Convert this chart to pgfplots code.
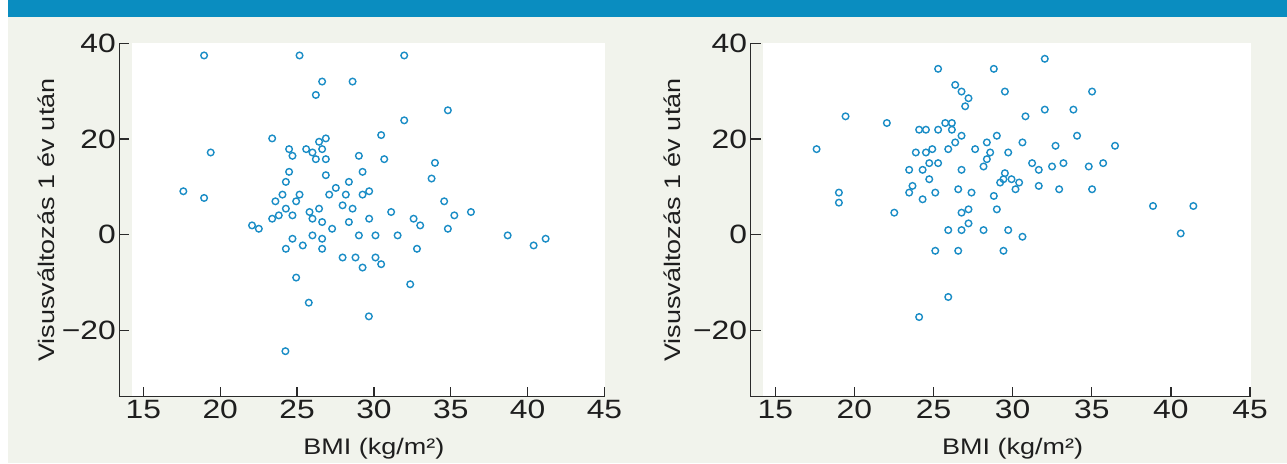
\documentclass[border=0pt]{standalone}
\usepackage{fontspec}
\setmainfont{Liberation Sans}[FakeStretch=1.2]
\usepackage{pgfplots}
\pgfplotsset{compat=1.18}
\definecolor{cream}{HTML}{F1F3EC}
\definecolor{barblue}{HTML}{0A8DC0}
\definecolor{markblue}{HTML}{1A8DC6}
\definecolor{axisgray}{HTML}{2A2A2A}
\definecolor{txt}{HTML}{1E1E1E}
\newcommand{\ticklab}{\fontsize{26.5}{31}\selectfont}
\newcommand{\lablab}{\fontsize{22.5}{26}\selectfont}
\pgfplotsset{
  myaxis/.style={
    scale only axis, anchor=south west,
    xmin=13.44, xmax=45, ymin=-33.9, ymax=40,
    axis x line=bottom, axis y line=left,
    axis line style={-, line width=1.3pt, color=axisgray},
    tick align=inside, major tick length=10pt,
    every tick/.style={line width=1.3pt, color=axisgray},
    xtick={15,20,25,30,35,40,45},
    xticklabels={15,20,25,30,35,40,45},
    ytick={-20,0,20,40},
    yticklabels={−20,0,20,40},
    tick label style={font=\ticklab, text=txt},
    /pgf/number format/assume math mode=true,
    xlabel={BMI (kg/m²)},
    ylabel={Visusváltozás 1 év után},
    every axis x label/.style={at={(axis description cs:0.5247,0)}, anchor=base, yshift=-57.3pt, font=\lablab, text=txt},
    every axis y label/.style={at={(axis description cs:#1,0.5)}, rotate=90, anchor=base, font=\lablab, text=txt},
  },
  myplot/.style={only marks, mark=o, mark size=3.3pt, color=markblue, mark options={line width=1.4pt}},
}
\begin{document}
\begin{tikzpicture}[x=1pt,y=1pt]
\useasboundingbox (0,0) rectangle (1287,463);
\fill[cream] (0,0) rectangle (1287,463);
\fill[white] (0,0) rectangle (8,463);
\fill[barblue] (8,446.3) rectangle (1287,463);
\fill[white] (131.8,66.3) rectangle (604.5,419.7);
\fill[white] (763,66.3) rectangle (1250.7,419.7);

\begin{axis}[myaxis={-0.1348}, at={(119.4pt,66.3pt)}, width=485.1pt, height=353.4pt]
\addplot[myplot] coordinates {
(18.95,37.46)(25.16,37.46)(31.97,37.46)(26.63,32.0)(28.61,32.0)(26.22,29.2)(34.81,25.99)(31.97,23.89)(23.38,20.11)(30.47,20.81)(26.87,20.11)(26.43,19.41)(19.38,17.17)(24.48,17.87)(25.59,17.87)(26.63,17.87)(26.0,17.17)(24.70,16.47)(29.02,16.47)(26.22,15.77)(26.87,15.77)(30.67,15.77)(33.97,15.0)
(24.48,13.12)(26.87,12.42)(29.26,13.12)(33.75,11.72)(24.27,11.02)(28.37,11.02)(17.60,9.06)(18.95,7.66)(24.05,8.36)(25.16,8.36)(27.52,9.76)(27.09,8.36)(28.17,8.36)(29.26,8.36)(29.69,9.06)(23.59,6.96)(24.94,6.96)(34.57,6.96)(27.96,6.12)(24.27,5.42)(26.43,5.42)(28.61,5.42)(25.81,4.72)(31.12,4.72)(36.31,4.72)(23.38,3.32)(23.81,4.02)(24.70,4.02)(26.0,3.32)(29.69,3.32)(32.58,3.32)(35.23,4.02)(26.63,2.62)(28.37,2.62)(33.01,1.92)(22.07,1.92)(22.51,1.22)(27.28,1.22)(34.81,1.22)
(26.0,-0.17)(29.02,-0.17)(30.10,-0.17)(31.54,-0.17)(38.70,-0.17)(24.70,-0.87)(26.63,-0.87)(41.17,-0.87)(25.37,-2.27)(40.39,-2.27)(24.27,-2.97)(26.63,-2.97)(32.80,-2.97)(27.96,-4.79)(28.80,-4.79)(30.10,-4.79)(30.47,-6.19)(29.26,-6.89)(24.94,-8.99)(32.36,-10.39)(25.76,-14.24)(29.67,-17.1)(24.24,-24.38)
};
\end{axis}

\begin{axis}[myaxis={-0.1394}, at={(750.6pt,66.3pt)}, width=499.4pt, height=353.4pt]
\addplot[myplot] coordinates {
(32.03,36.76)(25.29,34.66)(28.81,34.66)(26.37,31.3)(26.77,29.91)(29.51,29.91)(35.02,29.91)(27.21,28.51)(27.0,26.83)(32.03,26.13)(33.84,26.13)(19.44,24.73)(30.81,24.73)(22.05,23.33)(25.74,23.33)(26.16,23.33)(24.09,21.93)(24.52,21.93)(25.29,21.93)(26.16,21.93)(26.77,20.67)(29.0,20.67)(34.07,20.67)(26.37,19.27)(28.37,19.27)(30.62,19.27)(17.61,17.87)(24.92,17.87)(25.93,17.87)(27.63,17.87)(32.71,18.57)(36.47,18.57)(23.88,17.17)(24.52,17.17)(28.58,17.17)(29.72,17.17)(28.37,15.77)
(24.73,14.94)(25.29,14.94)(28.16,14.24)(31.23,14.94)(32.49,14.24)(33.21,14.94)(34.81,14.24)(35.72,14.94)(23.46,13.54)(24.31,13.54)(26.77,13.54)(31.65,13.54)(29.51,12.84)(24.73,11.58)(29.42,11.58)(29.93,11.58)(29.21,10.88)(30.41,10.88)(23.67,10.18)(31.65,10.18)(26.56,9.48)(30.18,9.48)(32.94,9.48)(35.02,9.48)(19.02,8.78)(23.46,8.78)(25.11,8.78)(27.40,8.78)(28.81,8.08)(19.02,6.68)(24.31,7.38)(38.87,5.98)(41.42,5.98)(27.21,5.28)(29.0,5.28)(22.52,4.58)(26.77,4.58)(27.21,2.34)(25.93,0.94)(26.77,0.94)(28.16,0.94)(29.72,0.94)(30.62,-0.45)(40.62,0.24)(25.11,-3.39)(26.56,-3.39)(29.42,-3.39)(25.93,-13.05)(24.09,-17.24)
};
\end{axis}
\end{tikzpicture}
\end{document}
